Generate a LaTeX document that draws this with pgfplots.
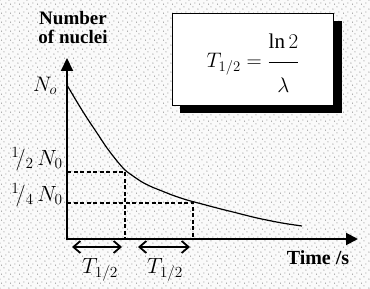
\documentclass[border=0pt]{standalone}
\usepackage{fix-cm}
\usepackage{pgfplots}
\pgfplotsset{compat=1.18}
\usepackage{amsmath}
\usepackage{fontspec}
\setmainfont{Liberation Serif}
\usetikzlibrary{arrows.meta,patterns}
\pgfdeclarepatternformonly{stipple}{\pgfqpoint{0pt}{0pt}}{\pgfqpoint{9pt}{9pt}}{\pgfqpoint{9pt}{9pt}}{%
  \pgfpathcircle{\pgfqpoint{1pt}{1pt}}{0.6pt}
  \pgfpathcircle{\pgfqpoint{5.5pt}{3.5pt}}{0.55pt}
  \pgfpathcircle{\pgfqpoint{2.8pt}{6.5pt}}{0.55pt}
  \pgfpathcircle{\pgfqpoint{7.6pt}{7.8pt}}{0.5pt}
  \pgfusepath{fill}}
\begin{document}
\begin{tikzpicture}
\begin{axis}[x=1pt,y=1pt, hide axis, clip=false, scale only axis,
  xmin=-67,xmax=303,ymin=-50,ymax=239]
\fill[black!2] (axis cs:-67,-50) rectangle (axis cs:303,239);
\fill[pattern=stipple, pattern color=black!60] (axis cs:-67,-50) rectangle (axis cs:303,239);
% axes
\draw[line width=2pt, -{Triangle[length=13pt,width=12pt]}] (axis cs:0,-1) -- (axis cs:0,181);
\draw[line width=2pt, -{Triangle[length=12pt,width=12pt]}] (axis cs:-1,0) -- (axis cs:291,0);
% decay curve
\addplot[smooth, tension=0.5, line width=1.2pt] coordinates {
(0,154)(10,137)(20,121)(30,106)(40,91)(50,78)(58,69)(66,63)(75,57)(85,52)(95,48)(105,44)(120,39)(135,35)(150,31)(170,26)(190,21)(215,16)(235,13)};
% dashed guides
\addplot[line width=1.1pt, dash pattern=on 4pt off 2.5pt] coordinates {(0,67)(58,67)(58,0)};
\addplot[line width=1.1pt, dash pattern=on 4pt off 2.5pt] coordinates {(0,36)(126,36)(126,0)};
% half-life arrows
\addplot[line width=1.8pt, {Straight Barb[length=7pt,width=12pt]}-{Straight Barb[length=7pt,width=12pt]}] coordinates {(5,-8)(55,-8)};
\addplot[line width=1.8pt, {Straight Barb[length=7pt,width=12pt]}-{Straight Barb[length=7pt,width=12pt]}] coordinates {(71,-8)(123,-8)};
\node[font=\fontsize{22}{22}\selectfont] at (axis cs:33,-31) {$T_{1/2}$};
\node[font=\fontsize{22}{22}\selectfont] at (axis cs:98,-31) {$T_{1/2}$};
% labels
\node[font=\fontsize{19}{20}\selectfont\bfseries, align=center] at (axis cs:6,211) {Number\\[-1pt]of nuclei};
\node[font=\fontsize{21}{22}\selectfont] at (axis cs:-22,153) {$N_o$};
\node[font=\fontsize{22}{22}\selectfont] at (axis cs:-30,80) {$^1\!/_2\,N_0$};
\node[font=\fontsize{22}{22}\selectfont] at (axis cs:-30,44) {$^1\!/_4\,N_0$};
\node[font=\fontsize{20}{21}\selectfont\bfseries] at (axis cs:251,-19) {Time /s};
% formula box
\fill (axis cs:113,218) rectangle (axis cs:275,126);
\draw[fill=white, line width=0.8pt] (axis cs:105,226) rectangle (axis cs:266,134);
\node[anchor=base, inner sep=0pt, font=\fontsize{21}{22}\selectfont] at (axis cs:186,171) {$T_{1/2} = \dfrac{\ln 2\rule[-11pt]{0pt}{11pt}}{\rule{0pt}{27pt}\lambda}$};
\end{axis}
\end{tikzpicture}
\end{document}
